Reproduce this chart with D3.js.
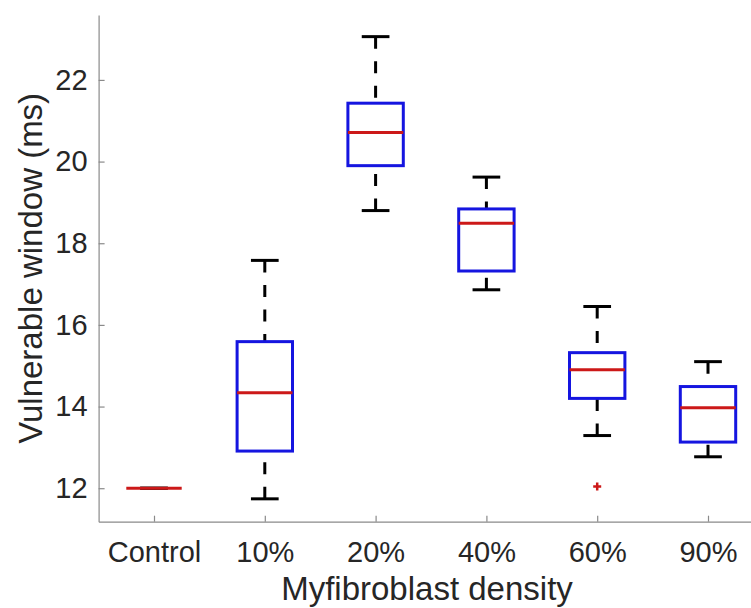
<!DOCTYPE html>
<html>
<head>
<meta charset="utf-8">
<script src="https://cdn.jsdelivr.net/npm/d3@7"></script>
<style>
  body { margin: 0; background: #fff; }
  svg { display: block; font-family: "Liberation Sans", Arial, Helvetica, sans-serif; }
</style>
</head>
<body>
<svg id="chart" width="751" height="608"></svg>
<script>
// values
const categories = ['Control', '10%', '20%', '40%', '60%', '90%']
const lowerWhisker = [12, 11.74, 18.80, 16.86, 13.29, 12.77]
const q1 = [12, 12.91, 19.90, 17.32, 14.20, 13.13]
const medians = [12, 14.34, 20.71, 18.49, 14.90, 13.97]
const q3 = [12, 15.59, 21.43, 18.84, 15.32, 14.49]
const upperWhisker = [12, 17.58, 23.06, 19.62, 16.45, 15.10]
const outlierCats = ['60%']
const outlierValues = [12.04]
const yTicks = [12, 14, 16, 18, 20, 22]

const plotLeft = 98.6, plotRight = 763.4, plotTop = 15, plotBottom = 521.7

const boxes = categories.map((c, i) => ({
    cat: c, lo: lowerWhisker[i], q1: q1[i], med: medians[i], q3: q3[i], hi: upperWhisker[i]
}))
const outliers = outlierCats.map((c, i) => ({ cat: c, value: outlierValues[i] }))

const svg = d3.select('#chart')

const xScale = d3.scalePoint().domain(categories).range([plotLeft, plotRight]).padding(0.5)
const yScale = d3.scaleLinear().domain([11.18, 23.59]).range([plotBottom, plotTop])

const boxW = xScale.step() * 0.5
const capW = boxW * 0.5

const yAxis = d3.axisLeft(yScale).tickValues(yTicks).tickSizeInner(-6).tickSizeOuter(0).tickPadding(11)
const xAxis = d3.axisBottom(xScale).tickSizeInner(-6).tickSizeOuter(0).tickPadding(19.7)

const gy = svg.append('g').attr('transform', 'translate(' + plotLeft + ',0)').call(yAxis)
const gx = svg.append('g').attr('transform', 'translate(0,' + plotBottom + ')').call(xAxis)

;[gx, gy].forEach(g => {
    g.select('.domain').attr('stroke', '#8a8a8a').attr('stroke-width', 1.2)
    g.selectAll('.tick line').attr('stroke', '#8a8a8a').attr('stroke-width', 1.2)
    g.selectAll('.tick text').attr('fill', '#262626').style('font-size', '29px')
})

// whiskers, dashed, drawn from cap toward box
svg.append('g').selectAll('line.up').data(boxes).enter().append('line')
    .attr('x1', d => xScale(d.cat)).attr('x2', d => xScale(d.cat))
    .attr('y1', d => yScale(d.hi)).attr('y2', d => yScale(d.q3))
    .attr('stroke', '#000').attr('stroke-width', 3).attr('stroke-dasharray', '12,12.5')
svg.append('g').selectAll('line.down').data(boxes).enter().append('line')
    .attr('x1', d => xScale(d.cat)).attr('x2', d => xScale(d.cat))
    .attr('y1', d => yScale(d.lo)).attr('y2', d => yScale(d.q1))
    .attr('stroke', '#000').attr('stroke-width', 3).attr('stroke-dasharray', '12,12.5')

// caps
const caps = boxes.flatMap(d => [{ cat: d.cat, v: d.hi }, { cat: d.cat, v: d.lo }])
svg.append('g').selectAll('line').data(caps).enter().append('line')
    .attr('x1', d => xScale(d.cat) - capW / 2).attr('x2', d => xScale(d.cat) + capW / 2)
    .attr('y1', d => yScale(d.v)).attr('y2', d => yScale(d.v))
    .attr('stroke', '#000').attr('stroke-width', 3)

// boxes
svg.append('g').selectAll('rect').data(boxes).enter().append('rect')
    .attr('x', d => xScale(d.cat) - boxW / 2)
    .attr('width', boxW)
    .attr('y', d => yScale(d.q3))
    .attr('height', d => yScale(d.q1) - yScale(d.q3))
    .attr('fill', 'none').attr('stroke', '#1515e0').attr('stroke-width', 3)

// medians
svg.append('g').selectAll('line').data(boxes).enter().append('line')
    .attr('x1', d => xScale(d.cat) - boxW / 2).attr('x2', d => xScale(d.cat) + boxW / 2)
    .attr('y1', d => yScale(d.med)).attr('y2', d => yScale(d.med))
    .attr('stroke', '#cc1818').attr('stroke-width', 3)

// outliers as red plus
svg.append('g').selectAll('path').data(outliers).enter().append('path')
    .attr('d', d => {
        const x = xScale(d.cat), y = yScale(d.value), s = 4
        return 'M' + (x - s) + ',' + y + 'H' + (x + s) + 'M' + x + ',' + (y - s) + 'V' + (y + s)
    })
    .attr('stroke', '#cc1818').attr('stroke-width', 2.5).attr('fill', 'none')

// axis titles
svg.append('text')
    .attr('x', 427).attr('y', 600)
    .attr('text-anchor', 'middle')
    .attr('fill', '#262626').style('font-size', '33px')
    .text('Myfibroblast density')

svg.append('text')
    .attr('transform', 'translate(42,' + ((plotTop + plotBottom) / 2) + ') rotate(-90)')
    .attr('text-anchor', 'middle')
    .attr('fill', '#262626').style('font-size', '33px')
    .text('Vulnerable window (ms)')
</script>
</body>
</html>
